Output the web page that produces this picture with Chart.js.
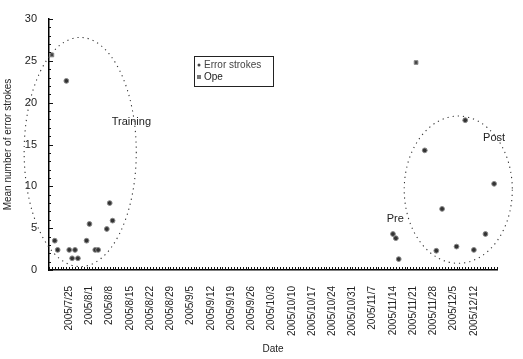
<!DOCTYPE html>
<html><head><meta charset="utf-8">
<script src="https://cdn.jsdelivr.net/npm/chart.js@4"></script>
<style>html,body{margin:0;padding:0;background:#fff;}#wrap{width:523px;height:359px;position:relative;}</style>
</head><body><div id="wrap"><canvas id="c" width="523" height="359"></canvas></div>
<script>
// ---- data ----
const tickLabels = ['2005/7/25','2005/8/1','2005/8/8','2005/8/15','2005/8/22','2005/8/29','2005/9/5','2005/9/12','2005/9/19','2005/9/26','2005/10/3','2005/10/10','2005/10/17','2005/10/24','2005/10/31','2005/11/7','2005/11/14','2005/11/21','2005/11/28','2005/12/5','2005/12/12'];
const seriesNames = ['Error strokes','Ope'];
const errorDates = ['2005/7/20','2005/7/21','2005/7/24','2005/7/25','2005/7/26','2005/7/27','2005/7/28','2005/7/31','2005/8/1','2005/8/3','2005/8/4','2005/8/7','2005/8/8','2005/8/9',
  '2005/11/14','2005/11/15','2005/11/16','2005/11/25','2005/11/29','2005/12/1','2005/12/6','2005/12/9','2005/12/12','2005/12/16','2005/12/19'];
const errorValues = [3.5,2.4,22.6,2.4,1.4,2.4,1.4,3.5,5.5,2.4,2.4,4.9,8.0,5.9,
  4.3,3.8,1.3,14.3,2.3,7.3,2.8,17.9,2.4,4.3,10.3];
const opeDates = ['2005/7/19','2005/11/22'];
const opeValues = [25.7,24.8];
const annotationTexts = ['Training','Pre','Post'];
const axisTitles = ['Date','Mean number of error strokes'];

// ---- helpers ----
const base = tickLabels[0];
function dayIndex(s){const [y,m,d]=s.split('/').map(Number);const [by,bm,bd]=base.split('/').map(Number);
  return Math.round((Date.UTC(y,m-1,d)-Date.UTC(by,bm-1,bd))/86400000);}
const labelByDay = {}; tickLabels.forEach(l=>labelByDay[dayIndex(l)]=l);
const X_MIN=-7, X_MAX=148;
const FONT='"Liberation Sans", Arial, sans-serif';

// annotation geometry in data units (center day, center value, radius days, radius value)
const ellipses=[{cx:3.8,cy:14.1,rx:19.4,ry:13.7},{cx:134.6,cy:9.6,rx:18.7,ry:8.8}];
const textPos=[{d:21.5,v:17.7},{d:112.8,v:6.1},{d:147,v:15.8}];

const extras={id:'extras',afterDraw(chart){
  const ctx=chart.ctx,xs=chart.scales.x,ys=chart.scales.y,ca=chart.chartArea;
  ctx.save();
  ctx.strokeStyle='#111';ctx.lineWidth=1;
  ctx.beginPath();
  for(let d=X_MIN;d<=X_MAX;d++){const px=Math.round(xs.getPixelForValue(d))+0.5;ctx.moveTo(px,ca.bottom);ctx.lineTo(px,ca.bottom-3);}
  for(let v=0;v<=30;v++){const py=Math.round(ys.getPixelForValue(v))+0.5;ctx.moveTo(ca.left,py);ctx.lineTo(ca.left+(v%5===0?4:2),py);}
  ctx.stroke();
  ctx.setLineDash([1.2,4]);ctx.strokeStyle='#333';ctx.lineWidth=1.1;
  ellipses.forEach(e=>{const cx=xs.getPixelForValue(e.cx),cy=ys.getPixelForValue(e.cy);
    const rx=xs.getPixelForValue(e.cx+e.rx)-cx,ry=cy-ys.getPixelForValue(e.cy+e.ry);
    ctx.beginPath();ctx.ellipse(cx,cy,rx,ry,0,0,Math.PI*2);ctx.stroke();});
  ctx.setLineDash([]);
  ctx.fillStyle='#222';ctx.font='11px '+FONT;ctx.textAlign='center';ctx.textBaseline='middle';
  annotationTexts.forEach((t,i)=>ctx.fillText(t,xs.getPixelForValue(textPos[i].d),ys.getPixelForValue(textPos[i].v)));
  const lx=ca.left+145,ly=ca.top+37,lw=79,lh=30;
  ctx.strokeStyle='#222';ctx.lineWidth=1;ctx.strokeRect(lx+0.5,ly+0.5,lw,lh);
  ctx.textAlign='left';ctx.font='10px '+FONT;
  ctx.fillStyle='#444';ctx.beginPath();ctx.arc(lx+5,ly+9,1.5,0,Math.PI*2);ctx.fill();
  ctx.fillText(seriesNames[0],lx+10,ly+9);
  ctx.fillStyle='#777';ctx.fillRect(lx+3,ly+19,4,4);
  ctx.fillStyle='#222';ctx.fillText(seriesNames[1],lx+10,ly+21);
  ctx.restore();
}};

new Chart(document.getElementById('c'),{
  type:'scatter',
  data:{datasets:[
    {label:seriesNames[0],data:errorDates.map((d,i)=>({x:dayIndex(d),y:errorValues[i]})),
     pointStyle:'circle',pointRadius:2.4,backgroundColor:'#333',borderColor:'#888',borderWidth:1},
    {label:seriesNames[1],data:opeDates.map((d,i)=>({x:dayIndex(d),y:opeValues[i]})),
     pointStyle:'rect',pointRadius:2.6,backgroundColor:'#444',borderColor:'#888',borderWidth:1}
  ]},
  options:{
    responsive:false,animation:false,devicePixelRatio:1,
    layout:{padding:{top:19,right:26,left:0,bottom:0}},
    plugins:{legend:{display:false},tooltip:{enabled:false}},
    scales:{
      x:{type:'linear',min:X_MIN,max:X_MAX,
        afterBuildTicks:s=>{const t=[];for(let d=X_MIN;d<=X_MAX;d++)t.push({value:d});s.ticks=t;},
        afterFit:s=>{s.height=89;},
        grid:{display:false},border:{display:true,color:'#000',width:1.5},
        ticks:{autoSkip:false,maxRotation:90,minRotation:90,padding:8,color:'#222',font:{family:FONT,size:10},
          callback:v=>labelByDay[v]||''},
        title:{display:true,text:axisTitles[0],color:'#222',font:{family:FONT,size:10},padding:{top:4,bottom:4}}},
      y:{min:0,max:30,
        afterFit:s=>{s.width=49;},
        grid:{display:false},border:{display:true,color:'#000',width:1.5},
        ticks:{stepSize:5,padding:4,color:'#222',font:{family:FONT,size:11}},
        title:{display:true,text:axisTitles[1],color:'#222',font:{family:FONT,size:10},padding:{top:2,bottom:2}}}
    }
  },
  plugins:[extras]
});
</script></body></html>
